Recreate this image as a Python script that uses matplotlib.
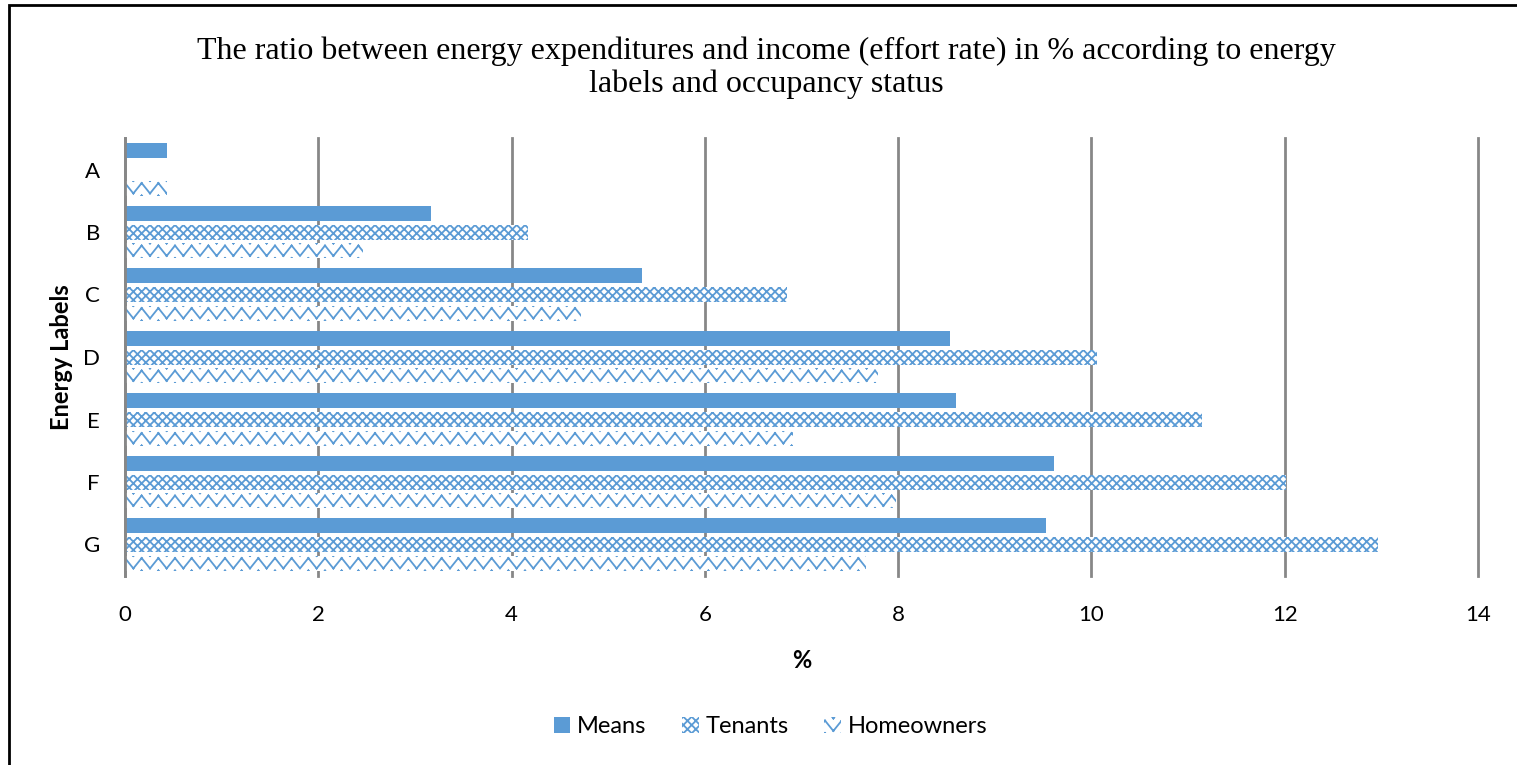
import warnings

import numpy as np
import matplotlib
matplotlib.use("Agg")
import matplotlib.pyplot as plt
from matplotlib import hatch as mhatch
from matplotlib.path import Path
from matplotlib.patches import Rectangle

warnings.filterwarnings("ignore")

# podaci
KATEGORIJE = ["A", "B", "C", "D", "E", "F", "G"]
MEANS = [0.43, 3.17, 5.35, 8.54, 8.60, 9.61, 9.53]
TENANTS = [0.0, 4.17, 6.85, 10.06, 11.14, 12.01, 12.97]
HOMEOWNERS = [0.43, 2.46, 4.72, 7.79, 6.91, 7.98, 7.67]
X_TICKS = [0, 2, 4, 6, 8, 10, 12, 14]

PLAVA = "#5B9BD5"
SIVA = "#878787"

# raspored (pikseli, 1517x765 pri dpi=100)
SIR, VIS = 1517, 765
LIJEVO, DESNO = 125, 1478
KAT = 62.5                 # razmak kategorija; 8 * 12.5 = 100 px (pločica šrafure)
VRH = 138.25
POMAK = 0.3
VISINA = 0.24
FAZA = (VRH + 0.5 * KAT + POMAK * KAT) % 12.5


class CikCak(mhatch.HatchPatternBase):
    """Cik-cak šrafura (znak 'z'), poravnata sa trakama 'Homeowners'."""

    redovi = 8
    zupci = 6

    def __init__(self, hatch, density):
        self.aktivna = "z" in hatch
        self.num_vertices = (self.redovi + 2) * self.zupci * 4 if self.aktivna else 0

    def set_vertices_and_codes(self, vertices, codes):
        xs = np.linspace(0.0, 1.0, 2 * self.zupci + 1)
        amp = 5.2 / 100.0
        i = 0
        for k in range(-1, self.redovi + 1):
            centar = 1.0 - (FAZA + 12.5 * k) / 100.0
            ys = centar + np.where(np.arange(len(xs)) % 2 == 0, -amp, amp)
            for j in range(len(xs) - 1):
                vertices[i] = (xs[j], ys[j])
                vertices[i + 1] = (xs[j + 1], ys[j + 1])
                codes[i] = Path.MOVETO
                codes[i + 1] = Path.LINETO
                i += 2


mhatch._hatch_types.append(CikCak)

plt.rcParams["hatch.linewidth"] = 1.3
plt.rcParams["font.family"] = ["Lato", "DejaVu Sans"]

fig = plt.figure(figsize=(SIR / 100, VIS / 100), dpi=100)
visina_ax = KAT * len(KATEGORIJE)
ax = fig.add_axes([LIJEVO / SIR, 1 - (VRH + visina_ax) / VIS,
                   (DESNO - LIJEVO) / SIR, visina_ax / VIS])

y = np.arange(len(KATEGORIJE))

ax.barh(y - POMAK, MEANS, height=VISINA, color=PLAVA, label="Means", zorder=3)
ax.barh(y, TENANTS, height=VISINA, color="white", edgecolor=PLAVA,
        hatch="xxxx", linewidth=0, label="Tenants", zorder=3)
ax.barh(y + POMAK, HOMEOWNERS, height=VISINA, color="white", edgecolor=PLAVA,
        hatch="z", linewidth=0, label="Homeowners", zorder=3)

ax.set_xlim(0, 14)
ax.set_ylim(len(KATEGORIJE) - 0.5, -0.5)
ax.set_xticks(X_TICKS)
ax.set_yticks(y)
ax.set_yticklabels(KATEGORIJE)
ax.tick_params(axis="both", length=0, labelsize=16)
ax.tick_params(axis="y", pad=18)
ax.tick_params(axis="x", pad=21)
ax.grid(axis="x", color=SIVA, linewidth=2, zorder=0)
for linija in ax.get_xgridlines():
    linija.set_clip_on(False)
for s in ["top", "right", "bottom"]:
    ax.spines[s].set_visible(False)
ax.spines["left"].set_color(SIVA)
ax.spines["left"].set_linewidth(2)
ax.spines["left"].set_zorder(4)

ax.set_xlabel("%", fontsize=17, fontweight="bold", labelpad=17)
ax.set_ylabel("Energy Labels", fontsize=17, fontweight="bold", labelpad=7)

fig.text(0.505, 0.912,
         "The ratio between energy expenditures and income (effort rate) in % according to energy\n"
         "labels and occupancy status",
         ha="center", va="center", fontsize=23, family="Liberation Serif",
         linespacing=1.15)

fig.legend(loc="center", bbox_to_anchor=(0.508, 0.0497), ncol=3, frameon=False,
           fontsize=17, handlelength=0.7, handleheight=0.7, handletextpad=0.3,
           columnspacing=1.5)

# okvir grafikona (vidljive samo lijeva i gornja ivica)
fig.patches.append(Rectangle((9 / SIR, -0.1), 1.2, 1.1 - 5.5 / VIS,
                             transform=fig.transFigure, fill=False,
                             edgecolor="black", linewidth=2))

fig.savefig("out.png", dpi=100)
